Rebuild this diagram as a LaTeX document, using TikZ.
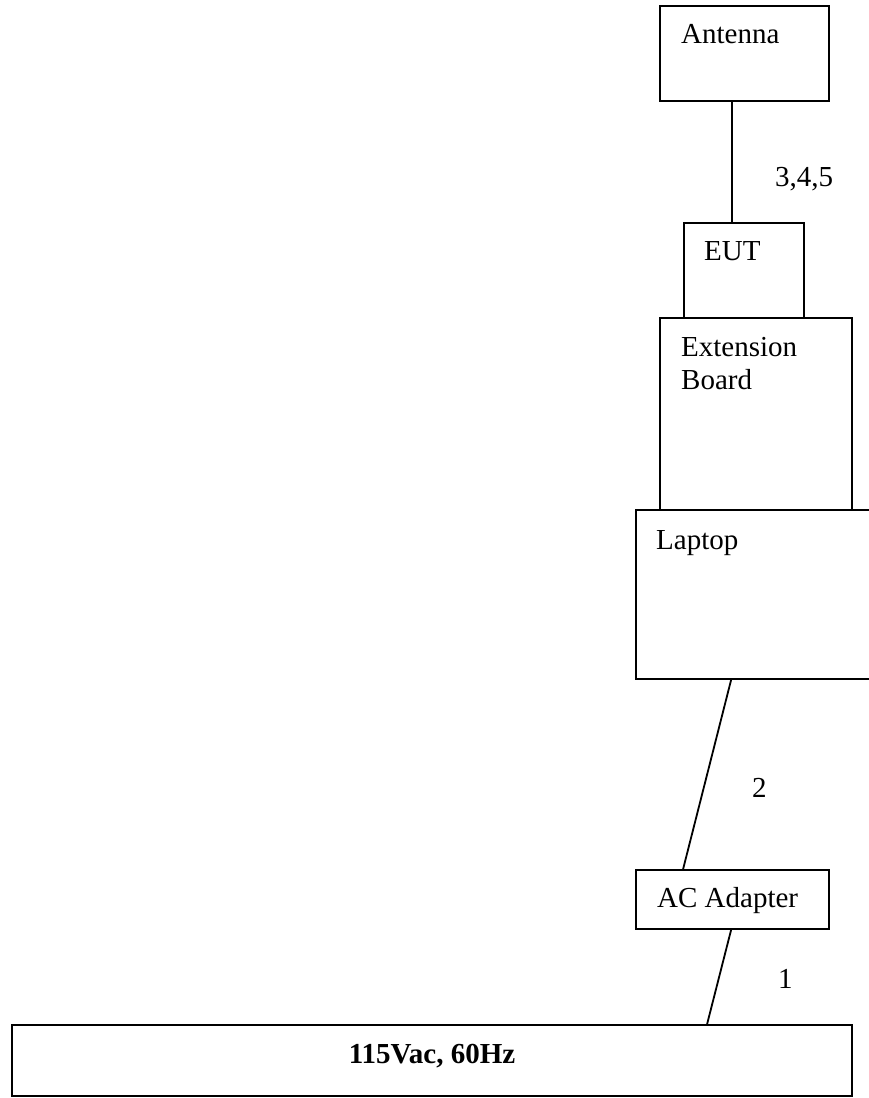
\documentclass[tikz,border=0pt]{standalone}
\usepackage{fontspec}
\setmainfont{Liberation Serif}
\begin{document}
\begin{tikzpicture}[x=1pt,y=-1pt,
  box/.style={draw,line width=1.8pt,rectangle,inner sep=0pt},
  txt/.style={inner sep=0pt,anchor=base west,font=\fontsize{29}{33}\selectfont},
  wire/.style={line width=1.8pt}]
\useasboundingbox (0,0) rectangle (869,1098);
\node[box,minimum width=169pt,minimum height=95pt] (ant) at (744.5,53.5) {};
\node[box,minimum width=120pt,minimum height=95pt] (eut) at (744,270.5) {};
\node[box,minimum width=192pt,minimum height=192pt] (ext) at (756,414) {};
\node[box,minimum width=239pt,minimum height=169pt] (lap) at (755.5,594.5) {};
\node[box,minimum width=193pt,minimum height=59pt] (ada) at (732.5,899.5) {};
\node[box,minimum width=840pt,minimum height=71pt] (ac) at (432,1060.5) {};
\node[txt] (tant) at (681,43) {Antenna};
\node[txt] (teut) at (704,260) {EUT};
\node[txt] (text1) at (681,356) {Extension};
\node[txt] (text2) at (681,389) {Board};
\node[txt] (tlap) at (656,549) {Laptop};
\node[txt] (tada) at (657,907) {AC Adapter};
\node[txt] (l345) at (775,186) {3,4,5};
\node[txt] (l2) at (752,797) {2};
\node[txt] (l1) at (778,988) {1};
\node[inner sep=0pt,anchor=base,font=\fontsize{29}{33}\selectfont\bfseries] (tac) at (432,1063) {115Vac, 60Hz};
\draw[wire] ([xshift=73pt]ant.south west) -- ([xshift=49pt]eut.north west);
\draw[wire] ([xshift=96pt]lap.south west) -- ([xshift=48pt]ada.north west);
\draw[wire] ([xshift=96pt]ada.south west) -- ([xshift=696pt]ac.north west);
\end{tikzpicture}
\end{document}
